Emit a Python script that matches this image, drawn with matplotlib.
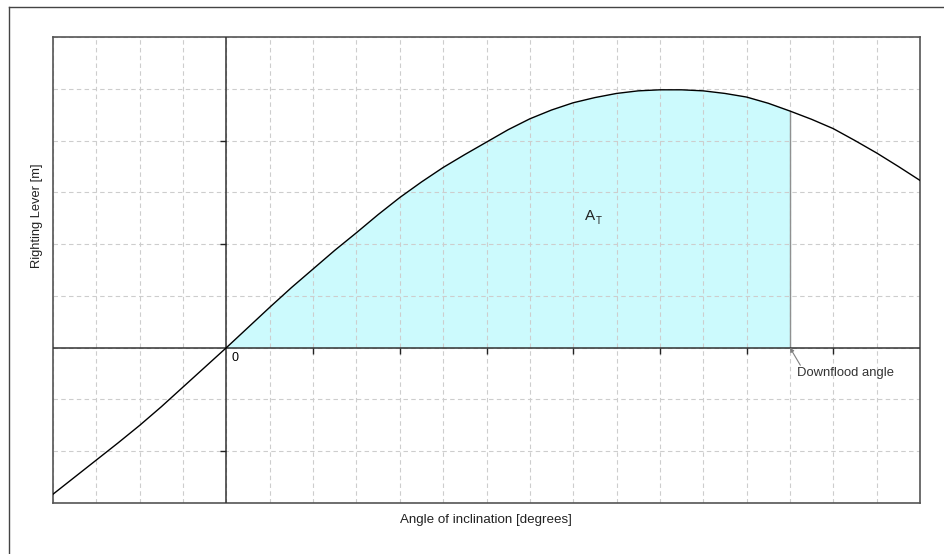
import matplotlib
matplotlib.use("Agg")
import matplotlib.pyplot as plt
from matplotlib.lines import Line2D
import numpy as np

# righting lever curve (every 2.5 degrees)
angle = np.arange(-20, 80.1, 2.5)
gz = np.array([-0.283, -0.250, -0.217, -0.184, -0.150, -0.114, -0.076,
               -0.038, 0.0, 0.039, 0.078, 0.116, 0.152, 0.188, 0.222,
               0.257, 0.290, 0.320, 0.348, 0.373, 0.397, 0.421, 0.442,
               0.459, 0.473, 0.483, 0.491, 0.496, 0.498, 0.498, 0.496,
               0.491, 0.484, 0.472, 0.457, 0.441, 0.423, 0.400, 0.376,
               0.350, 0.323])
downflood = 65
x_ticks = [10, 20, 30, 40, 50, 60, 70]
y_ticks = [-0.2, 0.2, 0.4]

plt.rcParams["font.family"] = ["Liberation Sans", "DejaVu Sans"]

fig = plt.figure(figsize=(9.44, 5.54), dpi=100)
ax = fig.add_axes([53 / 944, 51 / 554, 867 / 944, 466 / 554])
ax.set_xlim(-20, 80)
ax.set_ylim(-0.3, 0.6)

ax.set_xticks(np.arange(-20, 81, 5))
ax.set_yticks(np.arange(-0.3, 0.61, 0.1))
ax.tick_params(length=0, labelbottom=False, labelleft=False)
ax.grid(True, color="#cdcdcd", linestyle=(0, (4, 3)), linewidth=0.8)
for s in ax.spines.values():
    s.set_color("#555555")
    s.set_linewidth(1.2)

# area under the curve up to the downflood angle
mask = (angle >= 0) & (angle <= downflood)
ax.fill_between(angle[mask], 0, gz[mask], color="#ccfafd", zorder=1)
ax.vlines(downflood, 0, gz[angle == downflood][0], color="#909090",
          linewidth=1, zorder=2)

ax.axhline(0, color="#333333", linewidth=1.1, zorder=3)
ax.axvline(0, color="#333333", linewidth=1.1, zorder=3)
ax.plot(x_ticks, np.zeros(len(x_ticks)), linestyle="none", marker=3,
        markersize=4, color="#222222", zorder=3)
ax.plot(np.zeros(len(y_ticks)), y_ticks, linestyle="none", marker=0,
        markersize=4, color="#222222", zorder=3)

ax.plot(angle, gz, color="black", linewidth=1.0, zorder=4)

ax.text(0.6, -0.008, "0", fontsize=9, va="top", ha="left")
ax.text(41.95, 0.254, "A", fontsize=11, ha="center", va="center",
        color="#222222")
ax.text(43.0, 0.244, "T", fontsize=7, ha="center", va="center",
        color="#222222")
ax.annotate("", xy=(downflood, 0), xytext=(66.2, -0.034),
            arrowprops=dict(arrowstyle="-|>", color="#808080", lw=0.8,
                            shrinkA=0, shrinkB=0, mutation_scale=6))
ax.text(65.8, -0.048, "Downflood angle", fontsize=9.4, color="#333333",
        ha="left", va="center")

fig.text(37 / 944, 1 - 216 / 554, "Righting Lever [m]", rotation=90,
         fontsize=9.3, ha="center", va="center", color="#222222")
fig.text(486 / 944, 1 - 520 / 554, "Angle of inclination [degrees]",
         fontsize=9.6, ha="center", va="center", color="#222222")

# outer frame (top and left edges visible)
fig.add_artist(Line2D([9 / 944, 1], [1 - 7 / 554, 1 - 7 / 554],
                      color="#444444", linewidth=1.0))
fig.add_artist(Line2D([9 / 944, 9 / 944], [0, 1 - 7 / 554],
                      color="#444444", linewidth=1.0))

fig.savefig("out.png", dpi=100)
